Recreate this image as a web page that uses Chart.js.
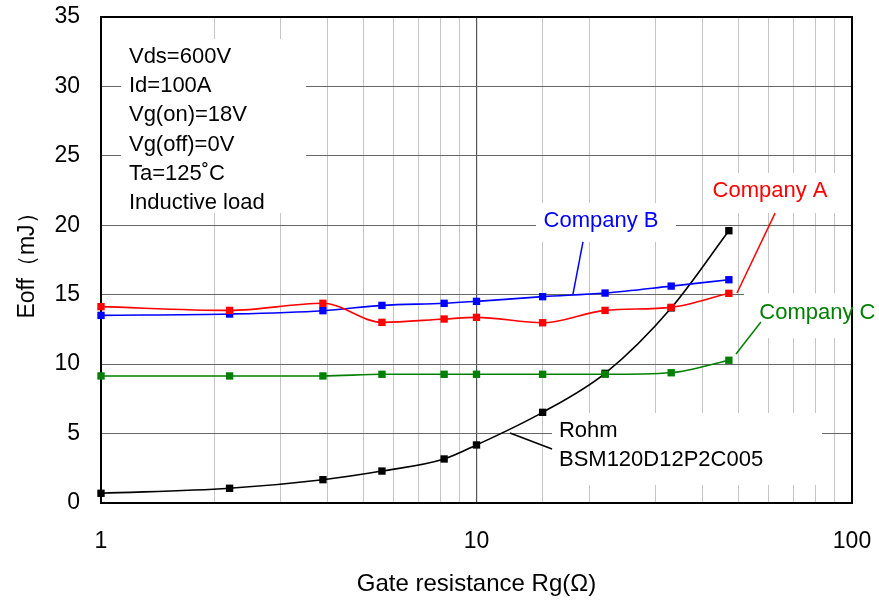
<!DOCTYPE html>
<html><head><meta charset="utf-8">
<script src="https://cdn.jsdelivr.net/npm/chart.js@4.4.0/dist/chart.umd.min.js"></script>
<style>html,body{margin:0;padding:0;background:#fff}</style>
</head><body>
<canvas id="c" width="879" height="602"></canvas>
<script>
// ---- data ----
const gateResistance = [1, 2.2, 3.9, 5.6, 8.2, 10, 15, 22, 33, 47];
const companyA = [14.14, 13.87, 14.38, 13.01, 13.25, 13.37, 12.98, 13.87, 14.09, 15.10];
const companyB = [13.51, 13.61, 13.85, 14.23, 14.38, 14.52, 14.86, 15.12, 15.62, 16.08];
const companyC = [9.15, 9.15, 9.15, 9.27, 9.27, 9.27, 9.27, 9.27, 9.38, 10.28];
const rohm     = [0.70, 1.06, 1.68, 2.30, 3.17, 4.18, 6.53, 9.34, 14.05, 19.61];
const xTickLabels = [1, 10, 100];
const yMin = 0, yMax = 35, yStep = 5;

const infoLines = ['Vds=600V', 'Id=100A', 'Vg(on)=18V', 'Vg(off)=0V', 'Ta=125\u02daC', 'Inductive load'];
const seriesLabels = ['Company A', 'Company B', 'Company C', 'Rohm'];

// annotation anchors in data units (Rg, Eoff)
const labelBoxes = [
  {x0: 1.131, x1: 3.516, y0: 20.88, y1: 33.41},
  {x0: 14.40, x1: 33.99, y0: 18.80, y1: 21.60},
  {x0: 40.6,  x1: 100,   y0: 20.88, y1: 23.77},
  {x0: 51.6,  x1: 118,   y0: 11.88, y1: 15.10},
  {x0: 15.89, x1: 83.2,  y0: 1.30,  y1: 6.48}
];
const labelTexts = [
  {text: 'Company B', x: 21.46, y: 19.90, align: 'center', color: '#0000ff'},
  {text: 'Company A', x: 60.5,  y: 22.01, align: 'center', color: '#ff0000'},
  {text: 'Company C', x: 80.9,  y: 13.25, align: 'center', color: '#008000'},
  {text: 'Rohm',      x: 16.58, y: 4.77,  align: 'left',   color: '#000000'},
  {text: 'BSM120D12P2C005', x: 16.58, y: 2.66, align: 'left', color: '#000000'}
];
const leaderLines = [
  {x0: 19.21, y0: 18.80, x1: 18.07, y1: 15.05, color: '#0000ff'},
  {x0: 62.4,  y0: 20.88, x1: 49.4,  y1: 15.12, color: '#ff0000'},
  {x0: 57.2,  y0: 13.03, x1: 49.1,  y1: 10.73, color: '#008000'},
  {x0: 12.28, y0: 5.04,  x1: 15.89, y1: 3.89,  color: '#000000'}
];
const infoAnchor = {x: 1.187, y: 31.69};

const FONT = "'Liberation Sans', Arial, sans-serif";

function pts(vals) { return gateResistance.map((x, i) => ({x: x, y: vals[i]})); }
function ds(label, vals, color) {
  return {
    label: label, data: pts(vals), borderColor: color, backgroundColor: color,
    borderWidth: 1.6, pointStyle: 'rect', pointRadius: 5.2, pointBorderWidth: 0,
    pointHoverRadius: 5.2, cubicInterpolationMode: 'monotone', clip: false
  };
}

const annotations = {
  id: 'annotations',
  beforeDatasetsDraw(chart) {
    const {ctx, chartArea: a, scales: {x, y}} = chart;
    ctx.save();
    ctx.fillStyle = '#ffffff';
    labelBoxes.forEach(b => {
      const px0 = x.getPixelForValue(b.x0), px1 = x.getPixelForValue(b.x1);
      const py0 = y.getPixelForValue(b.y1), py1 = y.getPixelForValue(b.y0);
      ctx.fillRect(px0, py0, px1 - px0, py1 - py0);
    });
    ctx.strokeStyle = '#000';
    ctx.lineWidth = 2;
    ctx.strokeRect(a.left, a.top, a.right - a.left, a.bottom - a.top);
    ctx.restore();
  },
  afterDatasetsDraw(chart) {
    const {ctx, scales: {x, y}} = chart;
    ctx.save();
    ctx.font = '22px ' + FONT;
    ctx.textBaseline = 'alphabetic';
    ctx.fillStyle = '#000';
    ctx.textAlign = 'left';
    const ix = x.getPixelForValue(infoAnchor.x), iy = y.getPixelForValue(infoAnchor.y);
    infoLines.forEach((t, i) => ctx.fillText(t, ix, iy + i * 29.2));
    labelTexts.forEach(l => {
      ctx.fillStyle = l.color;
      ctx.textAlign = l.align;
      ctx.fillText(l.text, x.getPixelForValue(l.x), y.getPixelForValue(l.y));
    });
    ctx.lineWidth = 1.5;
    leaderLines.forEach(l => {
      ctx.strokeStyle = l.color;
      ctx.beginPath();
      ctx.moveTo(x.getPixelForValue(l.x0), y.getPixelForValue(l.y0));
      ctx.lineTo(x.getPixelForValue(l.x1), y.getPixelForValue(l.y1));
      ctx.stroke();
    });
    ctx.restore();
  }
};

new Chart(document.getElementById('c'), {
  type: 'line',
  data: {
    datasets: [
      ds(seriesLabels[0], companyA, '#ff0000'),
      ds(seriesLabels[1], companyB, '#0000ff'),
      ds(seriesLabels[2], companyC, '#008000'),
      ds(seriesLabels[3], rohm, '#000000')
    ]
  },
  options: {
    responsive: false, animation: false, devicePixelRatio: 1,
    layout: {padding: {left: 0, right: 27, top: 17, bottom: 0}},
    plugins: {legend: {display: false}, tooltip: {enabled: false}},
    scales: {
      x: {
        type: 'logarithmic', min: 1, max: 100,
        afterFit(s) { s.height = 99; s.paddingLeft = 0; s.paddingRight = 0; },
        border: {display: false},
        grid: {
          drawTicks: false,
          color: c => (c.tick && c.tick.value === 10) ? '#555555' : '#c4c4c4',
          lineWidth: c => (c.tick && c.tick.value === 10) ? 1.2 : 1
        },
        ticks: {
          autoSkip: false, maxRotation: 0, padding: 25, color: '#000',
          font: {family: FONT, size: 23},
          callback: v => xTickLabels.includes(v) ? String(v) : ''
        },
        title: {display: true, text: 'Gate resistance Rg(\u03a9)', color: '#000',
          font: {family: FONT, size: 24, lineHeight: 1.2}, padding: {top: 0, bottom: 3}}
      },
      y: {
        min: yMin, max: yMax,
        afterFit(s) { s.width = 101; s.paddingTop = 0; s.paddingBottom = 0; },
        border: {display: false},
        grid: {drawTicks: false, color: '#666666', lineWidth: 1},
        ticks: {stepSize: yStep, padding: 21, color: '#000', font: {family: FONT, size: 23}},
        title: {display: true, text: 'Eoff\uff08mJ\uff09', color: '#000',
          font: {family: FONT, size: 23, lineHeight: 1.2}, padding: {top: 14, bottom: 0}}
      }
    }
  },
  plugins: [annotations]
});
</script>
</body></html>
